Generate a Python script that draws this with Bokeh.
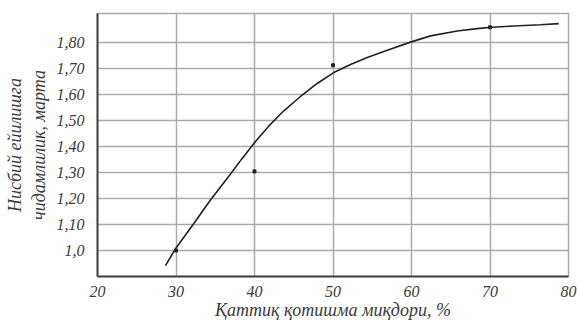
from bokeh.plotting import figure
from bokeh.models import FixedTicker, Range1d
from bokeh.embed import file_html
from bokeh.resources import INLINE

# curve
curve_x = [28.66, 29.94, 32.27, 34.39, 36.73, 38.43, 40.34, 41.78, 43.73, 45.86, 47.99,
           50.03, 52.23, 54.36, 56.47, 59.78, 62.42, 65.82, 68.37, 70.19, 73.03, 76.43, 78.76]
curve_y = [0.942, 1.007, 1.104, 1.194, 1.285, 1.354, 1.427, 1.477, 1.537, 1.592, 1.642,
           1.683, 1.715, 1.742, 1.765, 1.80, 1.825, 1.844, 1.853, 1.858, 1.863, 1.868, 1.872]
# measured points
pts_x = [30, 40, 50, 70]
pts_y = [1.0, 1.304, 1.712, 1.858]

x_ticks = [20, 30, 40, 50, 60, 70, 80]
y_ticks = [1.0, 1.1, 1.2, 1.3, 1.4, 1.5, 1.6, 1.7, 1.8]
y_tick_labels = ["1,0", "1,10", "1,20", "1,30", "1,40", "1,50", "1,60", "1,70", "1,80"]
x_title = "Қаттиқ қотишма миқдори, %"
y_title = "Нисбий ейилишга\nчидамлилик, марта"

FONT = "Liberation Serif"

p = figure(width=577, height=320, output_backend="svg", toolbar_location=None,
           x_range=Range1d(20, 80), y_range=Range1d(0.9, 1.911),
           min_border_left=97, min_border_right=9, min_border_top=13, min_border_bottom=44)
p.frame_width = 471
p.frame_height = 263

p.line(curve_x, curve_y, line_color="#222222", line_width=1.6)
p.scatter(pts_x, pts_y, marker="square", size=3, color="#222222")

for ax in (p.xaxis[0], p.yaxis[0]):
    ax.major_tick_line_color = None
    ax.minor_tick_line_color = None
    ax.axis_line_color = "#444444"
    ax.axis_line_width = 2
    ax.major_label_text_font = FONT
    ax.major_label_text_font_style = "italic"
    ax.major_label_text_font_size = "16px"
    ax.major_label_text_color = "#3a3a3a"
    ax.axis_label_text_font = FONT
    ax.axis_label_text_font_style = "italic"
    ax.axis_label_text_font_size = "18px"
    ax.axis_label_text_color = "#3a3a3a"

p.xaxis[0].ticker = FixedTicker(ticks=x_ticks)
p.yaxis[0].ticker = FixedTicker(ticks=y_ticks)
p.yaxis[0].major_label_overrides = {t: l for t, l in zip(y_ticks, y_tick_labels)}
p.xaxis[0].major_label_standoff = 3
p.yaxis[0].major_label_standoff = 7
p.xaxis[0].axis_label = x_title
p.xaxis[0].axis_label_standoff = 0
p.yaxis[0].axis_label = y_title
p.yaxis[0].axis_label_standoff = 5

p.xgrid[0].ticker = FixedTicker(ticks=x_ticks)
p.ygrid[0].ticker = FixedTicker(ticks=y_ticks)
for g in (p.xgrid[0], p.ygrid[0]):
    g.grid_line_color = "#aaaaaa"
    g.grid_line_width = 1.5

p.outline_line_color = "#aaaaaa"
p.outline_line_width = 1.5
p.background_fill_color = "white"
p.border_fill_color = "white"

open("out.html", "w").write(file_html(p, INLINE))
